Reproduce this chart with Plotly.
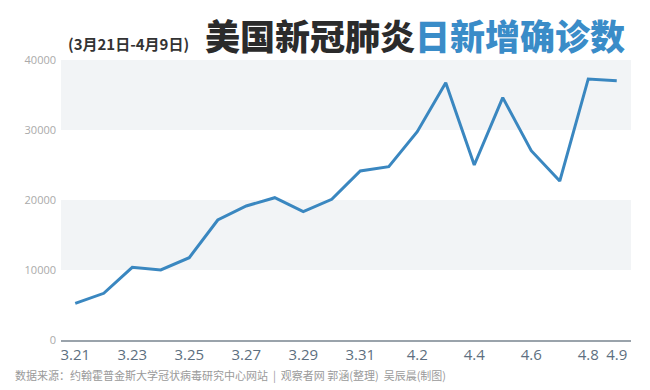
import plotly.graph_objects as go

dates = ["3.21", "3.22", "3.23", "3.24", "3.25", "3.26", "3.27", "3.28", "3.29", "3.30",
         "3.31", "4.1", "4.2", "4.3", "4.4", "4.5", "4.6", "4.7", "4.8", "4.9"]
new_cases = [5240, 6670, 10380, 10000, 11760, 17140, 19140, 20330, 18330, 20100,
             24140, 24760, 29760, 36760, 25000, 34620, 27040, 22710, 37290, 37040]
tick_labels = ["3.21", "3.23", "3.25", "3.27", "3.29", "3.31", "4.2", "4.4", "4.6", "4.8", "4.9"]
y_ticks = [0, 10000, 20000, 30000, 40000]
y_tick_text = ["0", "10000", "20000", "30000", "40000"]
bands = [(10000, 20000), (30000, 40000)]

fig = go.Figure()
fig.add_trace(go.Scatter(x=dates, y=new_cases, mode="lines",
                         line=dict(color="#3a87c0", width=3), hoverinfo="x+y"))

for y0, y1 in bands:
    fig.add_shape(type="rect", xref="paper", yref="y", x0=0, x1=1, y0=y0, y1=y1,
                  fillcolor="#f2f4f6", line_width=0, layer="below")

fig.update_layout(
    width=642, height=382,
    margin=dict(l=53, r=19, t=52, b=50),
    paper_bgcolor="white", plot_bgcolor="white",
    showlegend=False,
    font=dict(family="Noto Sans CJK SC, Noto Sans, sans-serif"),
)
fig.update_xaxes(type="category", range=[-0.5, 19.5], tickmode="array",
                 tickvals=tick_labels, ticktext=tick_labels, showgrid=False,
                 showline=True, linecolor="#9aa3ab", linewidth=1.5, ticks="",
                 tickfont=dict(size=15, color="#5d6f80", family="Open Sans, Noto Sans, sans-serif"),
                 zeroline=False)
fig.update_yaxes(range=[0, 40000], tickvals=y_ticks, ticktext=y_tick_text,
                 showgrid=False, zeroline=False,
                 tickfont=dict(size=11, color="#aaaaaa", family="Open Sans, Noto Sans, sans-serif"),
                 ticks="", ticklabelstandoff=4)

fig.add_annotation(xref="paper", yref="paper", x=0, y=1.0, xshift=5, yshift=17,
                   xanchor="left", yanchor="middle", showarrow=False,
                   text="<b>(3月21日-4月9日)</b>",
                   font=dict(size=15, color="#333333", family="Noto Sans CJK SC"))
fig.add_annotation(xref="paper", yref="paper", x=1.0, y=1.0, xshift=-4, yshift=26,
                   xanchor="right", yanchor="middle", showarrow=False,
                   text="美国新冠肺炎<span style='color:#3a8cc8'>日新增确诊数</span>",
                   font=dict(size=35, color="#2b2b2b", family="Noto Sans CJK SC", weight=900))
fig.add_annotation(xref="paper", yref="paper", x=-0.084, y=0, yshift=-35,
                   xanchor="left", yanchor="middle", showarrow=False,
                   text="数据来源：约翰霍普金斯大学冠状病毒研究中心网站  |  观察者网 郭涵(整理)  吴辰晨(制图)",
                   font=dict(size=11, color="#9a9a9a", family="Noto Sans CJK SC"))

fig.write_html("out.html")
